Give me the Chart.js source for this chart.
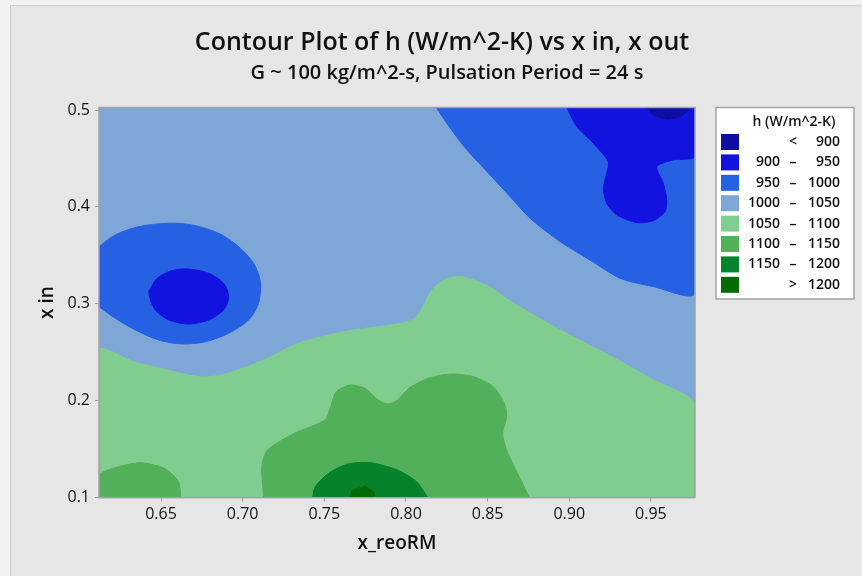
<!DOCTYPE html>
<html>
<head>
<meta charset="utf-8">
<script src="https://cdn.jsdelivr.net/npm/chart.js@4.4.1/dist/chart.umd.min.js"></script>
<style>
  html, body { margin: 0; padding: 0; background: #e6e6e6; }
  #wrap { width: 862px; height: 576px; }
</style>
</head>
<body>
<div id="wrap"><canvas id="contour" width="862" height="576"></canvas></div>
<script>
const xRange = [0.612, 0.977];
const yRange = [0.0996, 0.5026];
const xTicks = [0.65, 0.70, 0.75, 0.80, 0.85, 0.90, 0.95];
const yTicks = [0.1, 0.2, 0.3, 0.4, 0.5];
const levels = [900, 950, 1000, 1050, 1100, 1150, 1200];
const bandColors = ['#0e0ea2', '#1313df', '#2561e2', '#7ea7d8', '#80cd8f', '#52b05a', '#05822a', '#036b03'];

// contour region outlines as [x_reoRM, x in]
const band1000 = [[0.612, 0.0996], [0.612, 0.5026], [0.977, 0.5026], [0.977, 0.0996]];
const band1050 = [[0.612, 0.0996], [0.612, 0.252], [0.6332, 0.240], [0.6496, 0.2333], [0.6730, 0.2246], [0.6871, 0.2263],
  [0.7129, 0.2418], [0.7339, 0.2591], [0.7620, 0.2711], [0.7971, 0.2798], [0.8065, 0.2866], [0.8159, 0.3142],
  [0.8252, 0.3262], [0.8346, 0.3279], [0.8510, 0.3176], [0.8627, 0.3038], [0.8908, 0.2762], [0.9260, 0.2452],
  [0.9517, 0.2212], [0.977, 0.1964], [0.977, 0.0996]];
const band1100a = [[0.7129, 0.0996], [0.7117, 0.1316], [0.7152, 0.1489], [0.7316, 0.1661], [0.7503, 0.1799], [0.7538, 0.1936],
  [0.7573, 0.2091], [0.7655, 0.2160], [0.7749, 0.2126], [0.7831, 0.2005], [0.7889, 0.1964], [0.7948, 0.2005],
  [0.8018, 0.2126], [0.8135, 0.2229], [0.8276, 0.2274], [0.8416, 0.2246], [0.8534, 0.2143], [0.8603, 0.1971],
  [0.8616, 0.1833], [0.8592, 0.1661], [0.8616, 0.1489], [0.8674, 0.1282], [0.8756, 0.0996]];
const band1100b = [[0.612, 0.0996], [0.612, 0.1230], [0.6239, 0.1316], [0.6379, 0.1357], [0.6520, 0.1300], [0.6602, 0.1179],
  [0.6618, 0.1075], [0.6618, 0.0996]];
const band1150 = [[0.7428, 0.0996], [0.7444, 0.1110], [0.7526, 0.1248], [0.7644, 0.1344], [0.7784, 0.1357], [0.7948, 0.1282],
  [0.8065, 0.1161], [0.8135, 0.0996]];
const band1200 = [[0.7654, 0.0996], [0.7669, 0.1068], [0.7750, 0.1117], [0.7801, 0.1058], [0.7811, 0.0996]];
const band950a = [[0.8185, 0.5026], [0.8271, 0.4812], [0.8373, 0.4588], [0.8515, 0.4330], [0.8638, 0.4105], [0.8760, 0.3882],
  [0.8944, 0.3640], [0.9127, 0.3451], [0.9311, 0.3262], [0.9515, 0.3176], [0.977, 0.3107], [0.977, 0.5026]];
const band950b = [[0.612, 0.3589], [0.6220, 0.3710], [0.6363, 0.3795], [0.6547, 0.3831], [0.6690, 0.3813], [0.6853, 0.3727],
  [0.6975, 0.3589], [0.7067, 0.3417], [0.7108, 0.3227], [0.7097, 0.3004], [0.7036, 0.2832], [0.6914, 0.2694],
  [0.6771, 0.2607], [0.6629, 0.2584], [0.6485, 0.2625], [0.6343, 0.2728], [0.6220, 0.2849], [0.612, 0.2969]];
const band900a = [[0.8985, 0.5026], [0.9046, 0.4829], [0.9147, 0.4657], [0.9239, 0.4467], [0.9229, 0.4347], [0.9209, 0.4192],
  [0.9229, 0.4037], [0.9291, 0.3916], [0.9413, 0.3837], [0.9515, 0.3857], [0.9586, 0.3950], [0.9597, 0.4071],
  [0.9576, 0.4244], [0.9536, 0.4415], [0.9637, 0.4485], [0.977, 0.4519], [0.977, 0.5026]];
const band900b = [[0.6424, 0.3124], [0.6476, 0.3262], [0.6567, 0.3341], [0.6669, 0.3358], [0.6791, 0.3314], [0.6883, 0.3211],
  [0.6914, 0.3072], [0.6883, 0.2935], [0.6791, 0.2832], [0.6669, 0.2790], [0.6547, 0.2832], [0.6465, 0.2935],
  [0.6435, 0.3038], [0.6424, 0.3124]];
const band850 = [[0.9474, 0.5026], [0.9515, 0.4949], [0.9597, 0.4905], [0.9678, 0.4932], [0.9729, 0.5001], [0.9739, 0.5026]];

// bottom layer first; [outline, band index into bandColors, curve tension]
const regions = [
  [band1000, 3, 0], [band1050, 4, 0.25], [band1100a, 5, 0.25], [band1100b, 5, 0.25], [band1150, 6, 0.25],
  [band1200, 7, 0], [band950a, 2, 0.25], [band950b, 2, 0.3], [band900a, 1, 0.25], [band900b, 1, 0.3], [band850, 0, 0.2]
];

const datasets = regions.map(([pts, band, tension], i) => ({
  data: pts.map(p => ({ x: p[0], y: p[1] })),
  showLine: true,
  fill: 'shape',
  backgroundColor: bandColors[band],
  borderColor: bandColors[band],
  borderWidth: 1,
  pointRadius: 0,
  tension: tension,
  order: regions.length - i
}));

const FONT = '"Open Sans", "Noto Sans", sans-serif';

const framePlugin = {
  id: 'frame',
  beforeDraw(chart) {
    const c = chart.ctx;
    c.save();
    c.fillStyle = '#f2f2f2';
    c.fillRect(0, 0, chart.width, chart.height);
    c.fillStyle = '#e6e6e6';
    c.fillRect(10, 5, chart.width - 10, chart.height - 5);
    c.strokeStyle = '#cfcfcf';
    c.lineWidth = 1;
    c.beginPath();
    c.moveTo(10.5, chart.height);
    c.lineTo(10.5, 5.5);
    c.lineTo(chart.width, 5.5);
    c.stroke();
    c.restore();
  },
  afterDatasetsDraw(chart) {
    const a = chart.chartArea;
    const c = chart.ctx;
    c.save();
    c.strokeStyle = '#a3a3a3';
    c.lineWidth = 1.5;
    c.strokeRect(a.left, a.top, a.right - a.left, a.bottom - a.top);
    c.restore();
  },
  afterDraw(chart) {
    const c = chart.ctx;
    c.save();
    // titles
    c.fillStyle = '#111';
    c.textAlign = 'center';
    c.textBaseline = 'middle';
    c.font = '600 25px ' + FONT;
    c.fillText('Contour Plot of h (W/m^2-K) vs x in, x out', 442, 43);
    c.font = '600 20px ' + FONT;
    c.fillText('G ~ 100 kg/m^2-s, Pulsation Period = 24 s', 447, 73);

    // legend box
    c.fillStyle = '#fff';
    c.fillRect(716, 107.5, 138, 191.5);
    c.strokeStyle = '#a3a3a3';
    c.lineWidth = 1.5;
    c.strokeRect(716, 107.5, 138, 191.5);
    c.fillStyle = '#111';
    c.font = '600 14px ' + FONT;
    c.fillText('h (W/m^2-K)', 794, 122);
    for (let i = 0; i < bandColors.length; i++) {
      const cy = 142 + i * 20.4;
      c.fillStyle = bandColors[i];
      c.fillRect(721, cy - 8, 18, 16);
      c.fillStyle = '#111';
      c.textAlign = 'right';
      const low = i === 0 || i === bandColors.length - 1 ? '' : String(levels[i - 1]);
      const high = String(i === bandColors.length - 1 ? levels[levels.length - 1] : levels[i]);
      const sep = i === 0 ? '<' : (i === bandColors.length - 1 ? '>' : '–');
      c.fillText(low, 780, cy);
      c.fillText(high, 840, cy);
      c.textAlign = 'center';
      c.fillText(sep, 793, cy);
    }
    c.restore();
  }
};

new Chart(document.getElementById('contour'), {
  type: 'scatter',
  data: { datasets: datasets },
  options: {
    responsive: false,
    animation: false,
    events: [],
    layout: { padding: { left: 30, right: 167, top: 107.5, bottom: 18 } },
    plugins: { legend: { display: false }, tooltip: { enabled: false } },
    scales: {
      x: {
        type: 'linear', min: xRange[0], max: xRange[1],
        afterBuildTicks: s => { s.ticks = xTicks.map(v => ({ value: v })); },
        afterFit: s => { s.height = 60.3; s.paddingLeft = 0; s.paddingRight = 0; },
        ticks: { callback: v => v.toFixed(2), color: '#111', font: { family: FONT, size: 16 }, padding: 3, maxRotation: 0 },
        grid: { drawOnChartArea: false, drawTicks: true, tickLength: 4, color: '#9a9a9a' },
        border: { display: false },
        title: { display: true, text: 'x_reoRM', color: '#111', font: { family: FONT, size: 19, weight: '600' }, padding: { top: 0, bottom: 3.5 } }
      },
      y: {
        type: 'linear', min: yRange[0], max: yRange[1],
        afterBuildTicks: s => { s.ticks = yTicks.map(v => ({ value: v })); },
        afterFit: s => { s.width = 69; s.paddingTop = 0; s.paddingBottom = 0; },
        ticks: { callback: v => v.toFixed(1), color: '#111', font: { family: FONT, size: 16 }, padding: 5 },
        grid: { drawOnChartArea: false, drawTicks: true, tickLength: 4, color: '#9a9a9a' },
        border: { display: false },
        title: { display: true, text: 'x in', color: '#111', font: { family: FONT, size: 19, weight: '600' }, padding: { top: 6.6, bottom: 0 } }
      }
    }
  },
  plugins: [framePlugin]
});
</script>
</body>
</html>
